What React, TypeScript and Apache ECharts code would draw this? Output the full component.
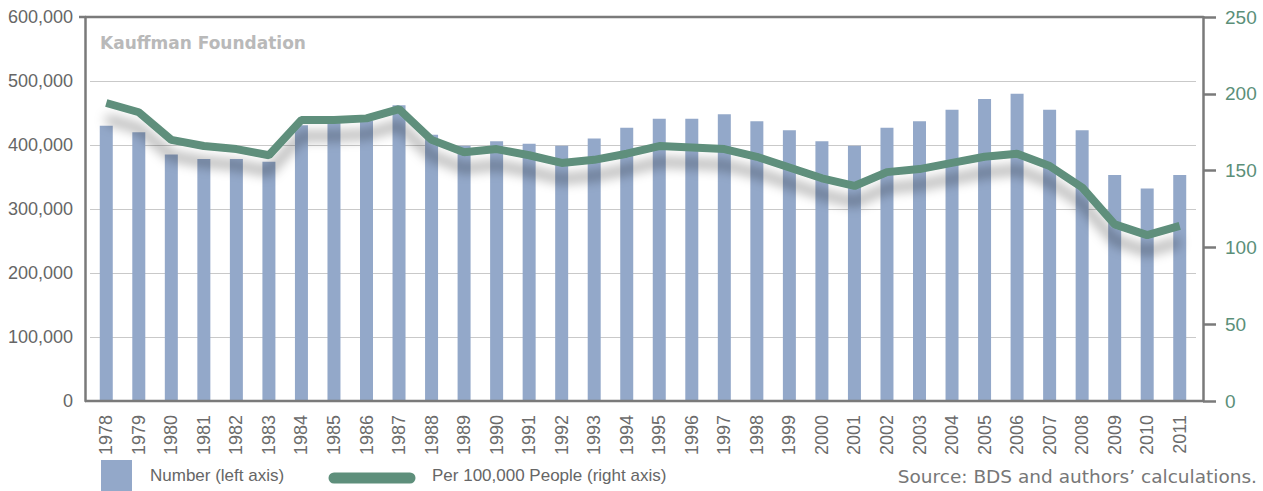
import React, { useEffect, useRef } from "react";
import * as echarts from "echarts";

const years = [
  "1978", "1979", "1980", "1981", "1982", "1983", "1984", "1985", "1986", "1987",
  "1988", "1989", "1990", "1991", "1992", "1993", "1994", "1995", "1996", "1997",
  "1998", "1999", "2000", "2001", "2002", "2003", "2004", "2005", "2006", "2007",
  "2008", "2009", "2010", "2011",
];

const firmsNumber = [
  430000, 420000, 385000, 378000, 378000, 374000, 431000, 435000, 438000, 462000,
  416000, 399000, 406000, 402000, 399000, 410000, 427000, 441000, 441000, 448000,
  437000, 423000, 406000, 399000, 427000, 437000, 455000, 472000, 480000, 455000,
  423000, 353000, 332000, 353000,
];

const perHundredThousand = [
  194, 188, 170, 166, 164, 160, 183, 183, 184, 190,
  170, 162, 164, 160, 155, 157, 161, 166, 165, 164,
  159, 152, 145, 140, 149, 151, 155, 159, 161, 153,
  139, 115, 108, 114,
];

const leftAxisRange = { min: 0, max: 600000, interval: 100000 };
const rightAxisRange = { min: 0, max: 250, interval: 50 };

const seriesNames = ["Number (left axis)", "Per 100,000 People (right axis)"];
const watermark = "Kauffman Foundation";
const sourceNote = "Source: BDS and authors\u2019 calculations.";

const COND = '"Liberation Sans", Arial, sans-serif';
const REG = '"Liberation Sans", Arial, sans-serif';
const WIDE = '"DejaVu Sans", sans-serif';
const BAR = "#93a8c9";
const LINE = "#5e8f7b";
const AXIS = "#7a7a7a";

export default function App() {
  const ref = useRef<HTMLDivElement>(null);

  useEffect(() => {
    if (!ref.current) return;
    const chart = echarts.init(ref.current, undefined, { renderer: "svg" });
    chart.setOption({
      animation: false,
      backgroundColor: "#ffffff",
      grid: { left: 90, right: 67, top: 17, bottom: 90, containLabel: false },
      xAxis: {
        type: "category",
        data: years,
        boundaryGap: true,
        axisLine: { show: false },
        axisTick: { show: false },
        axisLabel: {
          rotate: 90,
          margin: 14,
          color: "#6b6b6b",
          fontFamily: REG,
          fontSize: 18,
          interval: 0,
        },
      },
      yAxis: [
        {
          type: "value",
          position: "left",
          offset: 5,
          ...leftAxisRange,
          axisLine: { show: true, lineStyle: { color: AXIS, width: 2.5 } },
          axisTick: { show: false },
          splitLine: { show: true, lineStyle: { color: "#c9c9c9", width: 1 } },
          axisLabel: {
            margin: 12,
            color: "#666666",
            fontFamily: COND,
            fontSize: 18,
            formatter: (v: number) => v.toLocaleString("en-US"),
          },
        },
        {
          type: "value",
          position: "right",
          offset: 7,
          ...rightAxisRange,
          axisLine: { show: true, lineStyle: { color: AXIS, width: 2.5 } },
          axisTick: { show: true, inside: false, length: 13, lineStyle: { color: AXIS, width: 2.5 } },
          splitLine: { show: false },
          axisLabel: {
            margin: 22,
            color: "#5b8f79",
            fontFamily: COND,
            fontSize: 19,
          },
        },
      ],
      series: [
        {
          name: seriesNames[0],
          type: "bar",
          yAxisIndex: 0,
          data: firmsNumber,
          barWidth: 13,
          itemStyle: { color: BAR },
          z: 2,
        },
        {
          name: seriesNames[1],
          type: "line",
          yAxisIndex: 1,
          data: perHundredThousand,
          symbol: "none",
          lineStyle: {
            color: LINE,
            width: 8,
            shadowColor: "rgba(0,0,0,0.35)",
            shadowBlur: 12,
            shadowOffsetY: 16,
          },
          z: 3,
        },
      ],
      graphic: [
        { type: "line", shape: { x1: 85, y1: 17, x2: 1203, y2: 17 }, style: { stroke: AXIS, lineWidth: 2.5 }, z: 10 },
        { type: "line", shape: { x1: 85, y1: 401, x2: 1203, y2: 401 }, style: { stroke: AXIS, lineWidth: 2.5 }, z: 10 },
        { type: "line", shape: { x1: 79, y1: 17, x2: 85, y2: 17 }, style: { stroke: AXIS, lineWidth: 2.5 }, z: 10 },
        {
          type: "text",
          left: 100,
          top: 34,
          style: { text: watermark, fill: "#b9b9b9", font: `bold 17px ${WIDE}` },
          z: 10,
        },
        { type: "rect", shape: { x: 101, y: 460, width: 31, height: 31 }, style: { fill: BAR }, z: 10 },
        {
          type: "text",
          left: 150,
          top: 467,
          style: { text: seriesNames[0], fill: "#666666", font: `17px ${COND}` },
          z: 10,
        },
        {
          type: "line",
          shape: { x1: 334, y1: 478, x2: 410, y2: 478 },
          style: { stroke: LINE, lineWidth: 11, lineCap: "round" },
          z: 10,
        },
        {
          type: "text",
          left: 432,
          top: 467,
          style: { text: seriesNames[1], fill: "#666666", font: `17px ${COND}` },
          z: 10,
        },
        {
          type: "text",
          right: 6,
          top: 467,
          style: { text: sourceNote, fill: "#777777", font: `18.5px ${WIDE}` },
          z: 10,
        },
      ],
    });
    return () => chart.dispose();
  }, []);

  return (
    <div
      ref={ref}
      style={{ position: "fixed", left: 0, top: 0, width: 1263, height: 491 }}
    />
  );
}
